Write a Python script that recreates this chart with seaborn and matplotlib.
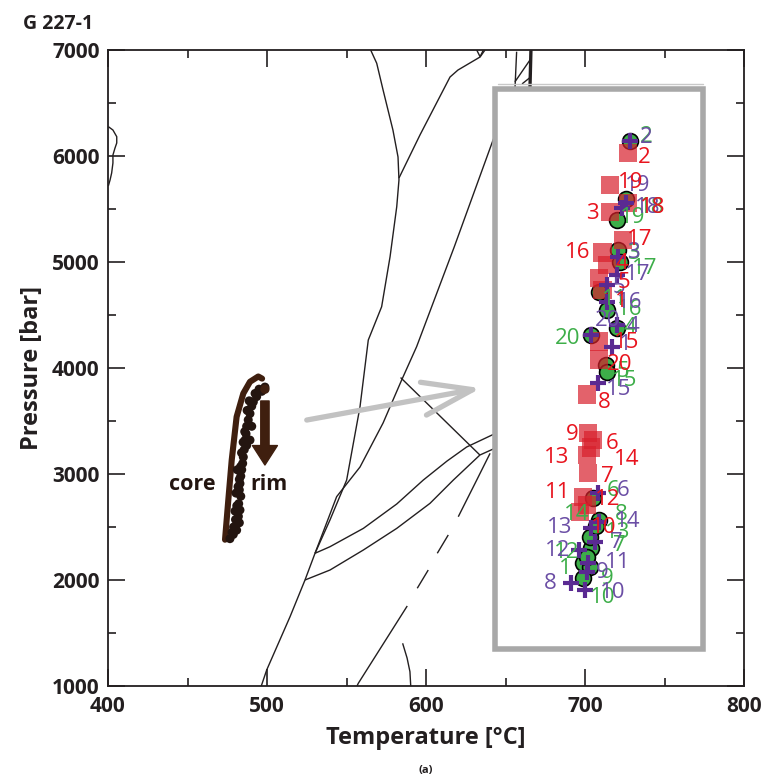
import matplotlib
matplotlib.use("Agg")
import matplotlib.pyplot as plt
from matplotlib.patches import Rectangle
from matplotlib.ticker import MultipleLocator
import pandas as pd
import seaborn as sns

# ---------------- data (T in °C, P in bar) ----------------
spot_ids = list(range(1, 21))

# Method 1 (red squares), spots 1..20
red_T = [711, 727, 716, 714, 709, 705, 702, 701, 702, 697,
         699, 701, 701, 704, 709, 711, 724, 727, 716, 709]
red_P = [4740, 6030, 5470, 4970, 4850, 3320, 3010, 3750, 3390, 2640,
         2780, 2710, 3180, 3250, 4250, 5090, 5210, 5560, 5730, 4080]

# Method 2 (green circles), spots 1..20
green_T = [699, 728, 721, 720, 713, 705, 704, 709, 703, 699,
           709, 701, 703, 707, 714, 714, 722, 726, 720, 704]
green_P = [2160, 6140, 5110, 4380, 4030, 2770, 2300, 2570, 2120, 2020,
           4720, 2220, 2410, 2510, 3960, 4550, 5000, 5590, 5400, 4310]

# Method 3 (purple crosses), spots 1..20
purple_T = [717, 728, 721, 720, 714, 708, 706, 691, 701, 700,
            702, 696, 704, 709, 708, 714, 720, 726, 723, 704]
purple_P = [4200, 6140, 5050, 4410, 4780, 2820, 2360, 1970, 2080, 1910,
            2160, 2280, 2490, 2550, 3860, 4620, 4880, 5560, 5510, 4310]

# garnet zoning, core -> rim
zoning_T = [476.7, 478.8, 480.9, 482.6, 482.0, 483.0, 482.2, 483.5, 482.6, 483.0,
            483.5, 484.1, 484.7, 485.1, 485.7, 487.2, 486.2, 486.8, 487.2, 488.2,
            489.3, 490.4, 491.4, 493.5, 496.7, 498.7, 490.4, 489.3, 481.3, 480.5,
            479.9, 479.0, 480.2, 481.0, 481.8, 482.6, 483.4, 484.0, 485.0, 486.0,
            487.5, 488.8, 492.5, 495.0, 478.0]
zoning_P = [2390, 2430, 2470, 2540, 2600, 2660, 2720, 2790, 2850, 2910,
            2980, 3040, 3100, 3160, 3230, 3270, 3320, 3380, 3450, 3510,
            3570, 3640, 3680, 3730, 3780, 3820, 3450, 3320, 3040, 2820,
            2650, 2500, 2570, 2700, 2880, 2950, 3070, 3200, 3300, 3400,
            3600, 3690, 3760, 3800, 2450]
envelope_T = [473.6, 475.7, 477.8, 480.9, 485.1, 489.3, 494.5, 496.9]
envelope_P = [2380, 2760, 3130, 3540, 3760, 3870, 3920, 3900]

# phase diagram reaction lines
line_a_T = [565.2, 569.0, 573.0, 579.2, 582.4, 583.0, 581.6, 577.4, 572.1, 563.7,
            558.5, 550.1, 539.6, 530.2, 523.9, 514.5, 499.8, 496.4]
line_a_P = [7000, 6875, 6623, 6245, 5991, 5774, 5522, 5050, 4578, 4264,
            3635, 2943, 2566, 2252, 2000, 1654, 1151, 1000]
line_c_T = [583.0, 596.2, 615.1, 620.1, 634.0, 637.1]
line_c_P = [5792, 6198, 6745, 6811, 6934, 7000]
line_d_T = [654.0, 641.5, 617.8, 594.1, 584.7, 573.0, 558.5, 543.8, 530.2]
line_d_P = [6620, 6123, 5144, 4201, 3887, 3481, 3066, 2786, 2252]
line_e_T = [530.2, 539.6, 560.6, 581.6, 598.3, 613.2, 625.6, 641.7, 647.0]
line_e_P = [2252, 2314, 2487, 2717, 2943, 3122, 3255, 3369, 3400]
line_f_T = [523.9, 539.6, 560.6, 581.6, 602.5, 617.2, 633.9, 642.3, 647.0]
line_f_P = [2000, 2094, 2283, 2487, 2723, 2943, 3179, 3236, 3260]
line_g_T = [584.0, 633.9]
line_g_P = [3910, 3179]
line_h_T = [640.3, 631.9, 620.3, None, 614.0, 607.1, None, 601.4, 594.5, None,
            588.2, 557.4, 556.6]
line_h_P = [3195, 2943, 2597, None, 2425, 2252, None, 2094, 1922, None,
            1755, 1025, 1000]
line_i_T = [585.3, 588.1, 589.9, 590.4]
line_i_P = [1403, 1264, 1135, 1000]
line_j_T = [657.0, 656.0, None, 665.4, 656.0, None, 660.4, 665.4]
line_j_P = [6984, 6650, None, 6906, 6701, None, 6680, 6740]
line_k_T = [666.0, 665.4]
line_k_P = [7000, 6650]
line_l_T = [631.9, 634.0, 636.1]
line_l_P = [7000, 6937, 7000]
line_m_T = [400.2, 403.1, 405.5, 405.5, 404.4, 403.1, 403.1, 402.3, 401.3, 400.2]
line_m_P = [6277, 6245, 6182, 6123, 6075, 6009, 5934, 5840, 5774, 5717]

# label offsets in pixels (dx, dy with dy downward)
red_off = [(19, 12), (16, 5), (-18, 1), (15, -2), (25, 5), (19, 3), (19, 4), (18, 8),
           (-16, 2), (23, 15), (-26, -5), (21, -5), (-30, 3), (35, 12), (27, 1),
           (-25, 0), (17, 0), (25, 5), (20, -2), (20, 5)]
green_off = [(-18, 5), (17, -5), (15, 3), (13, 0), (17, 7), (20, -8), (28, -3), (22, -5),
             (17, 11), (19, 20), (15, 8), (-20, -4), (28, -4), (-19, -11), (17, 8),
             (22, 0), (25, 6), (25, 8), (16, -2), (-24, 3)]
purple_off = [(13, -2), (17, -4), (15, -4), (16, 2), (12, 2), (25, -3), (22, 1), (-20, 0),
              (16, 1), (28, 3), (30, -1), (-21, 0), (-32, -1), (28, 0), (21, 7),
              (22, 0), (21, 0), (21, 5), (16, -22), (16, -15)]

# ---------------- styling ----------------
sns.set_theme(style="ticks")
plt.rcParams["font.family"] = ["Open Sans", "DejaVu Sans"]
INK = "#231f20"
BROWN = "#3f1f0f"
DOT = "#231510"
RED, RED_TXT = "#d8202c", "#e8141e"
GREEN = "#3dae49"
PURPLE, PURPLE_TXT = "#5a2a92", "#6b4ea5"

fig = plt.figure(figsize=(7.69, 7.80), dpi=100)
ax = fig.add_axes([108 / 769, 1 - 686 / 780, 636 / 769, 636 / 780])

# reaction lines
line_kw = dict(color=INK, lw=1.0, zorder=2, solid_capstyle="butt")
for xs, ys in [(line_a_T, line_a_P), (line_c_T, line_c_P), (line_d_T, line_d_P),
               (line_e_T, line_e_P), (line_f_T, line_f_P), (line_g_T, line_g_P),
               (line_h_T, line_h_P), (line_i_T, line_i_P), (line_j_T, line_j_P),
               (line_l_T, line_l_P), (line_m_T, line_m_P)]:
    ax.plot([float("nan") if v is None else v for v in xs],
            [float("nan") if v is None else v for v in ys], **line_kw)
ax.plot(line_k_T, line_k_P, color=INK, lw=2.4, zorder=2)

# zoom frame
ax.add_patch(Rectangle((643.7, 1349), 774.2 - 643.7, 6632 - 1349, facecolor="white",
                       edgecolor="#a8a8a8", lw=4.0, zorder=3))
ax.plot([645.5, 774.5], [6679, 6679], color="#c9c9c9", lw=1.0, zorder=3)

# garnet zoning path
ax.plot(envelope_T, envelope_P, color=BROWN, lw=4.4, zorder=4, solid_capstyle="round")
zon = pd.DataFrame({"T": zoning_T, "P": zoning_P})
sns.scatterplot(data=zon, x="T", y="P", ax=ax, color=DOT, s=42, edgecolor="none",
                zorder=4, legend=False)
ax.annotate("", xy=(498.7, 3085), xytext=(498.7, 3689),
            arrowprops=dict(arrowstyle="simple,head_length=1.4,head_width=1.8,tail_width=0.6",
                            color=BROWN, shrinkA=0, shrinkB=0, mutation_scale=10),
            zorder=4)
ax.scatter([498.7], [3800], s=45, color=BROWN, zorder=4, edgecolor="none")
ax.text(467.5, 2905, "core", ha="right", va="center", fontsize=15.5, fontweight="bold",
        color=DOT, zorder=4)
ax.text(489.3, 2905, "rim", ha="left", va="center", fontsize=15.5, fontweight="bold",
        color=DOT, zorder=4)

# gray pointer into the frame
ax.annotate("", xy=(634.5, 3810), xytext=(525, 3509),
            arrowprops=dict(arrowstyle="->,head_length=1.8,head_width=0.6",
                            color="#c2c2c2", lw=3.8, shrinkA=0, shrinkB=0,
                            mutation_scale=20),
            zorder=4)

# thermobarometry results
df_g = pd.DataFrame({"T": green_T, "P": green_P, "id": spot_ids})
df_r = pd.DataFrame({"T": red_T, "P": red_P, "id": spot_ids})
df_p = pd.DataFrame({"T": purple_T, "P": purple_P, "id": spot_ids})
sns.scatterplot(data=df_g, x="T", y="P", ax=ax, marker="o", s=130, color=GREEN,
                edgecolor="black", linewidth=1.2, zorder=5, legend=False)
sns.scatterplot(data=df_r, x="T", y="P", ax=ax, marker="s", s=170, color=RED,
                alpha=0.7, edgecolor="none", zorder=6, legend=False)
sns.scatterplot(data=df_p, x="T", y="P", ax=ax, marker="+", s=130, color=PURPLE,
                linewidth=3.0, zorder=7, legend=False)

for df, offs, col, z in [(df_g, green_off, GREEN, 8), (df_p, purple_off, PURPLE_TXT, 9),
                         (df_r, red_off, RED_TXT, 10)]:
    for (t, p, i), (dx, dy) in zip(df[["T", "P", "id"]].itertuples(index=False), offs):
        ax.annotate(str(i), xy=(t, p), xytext=(dx, -dy), textcoords="offset pixels",
                    ha="center", va="center", fontsize=16, color=col, zorder=z)

# axes
ax.set_xlim(400, 800)
ax.set_ylim(1000, 7000)
ax.set_xticks([400, 500, 600, 700, 800])
ax.set_yticks([1000, 2000, 3000, 4000, 5000, 6000, 7000])
ax.xaxis.set_minor_locator(MultipleLocator(50))
ax.yaxis.set_minor_locator(MultipleLocator(500))
ax.tick_params(which="both", direction="in", top=True, right=True, color=INK,
               width=1.2, labelsize=15, labelcolor=INK)
ax.tick_params(which="major", length=12)
ax.tick_params(which="minor", length=6)
ax.tick_params(axis="x", pad=7)
ax.tick_params(axis="y", pad=6)
for lab in ax.get_xticklabels() + ax.get_yticklabels():
    lab.set_fontweight("bold")
for sp in ax.spines.values():
    sp.set_color(INK)
    sp.set_linewidth(1.3)
    sp.set_visible(True)
ax.set_xlabel("Temperature [°C]", fontsize=17, fontweight="bold", color=INK, labelpad=7)
ax.set_ylabel("Pressure [bar]", fontsize=17, fontweight="bold", color=INK, labelpad=6)

fig.text(23 / 769, 1 - 24 / 780, "G 227-1", fontsize=14, fontweight="bold", color=INK,
         ha="left", va="center")
fig.text(426 / 769, 1 - 771 / 780, "(a)", fontsize=8, fontweight="bold", color=INK,
         ha="center", va="center")

fig.savefig("out.png", dpi=100, facecolor="white")
